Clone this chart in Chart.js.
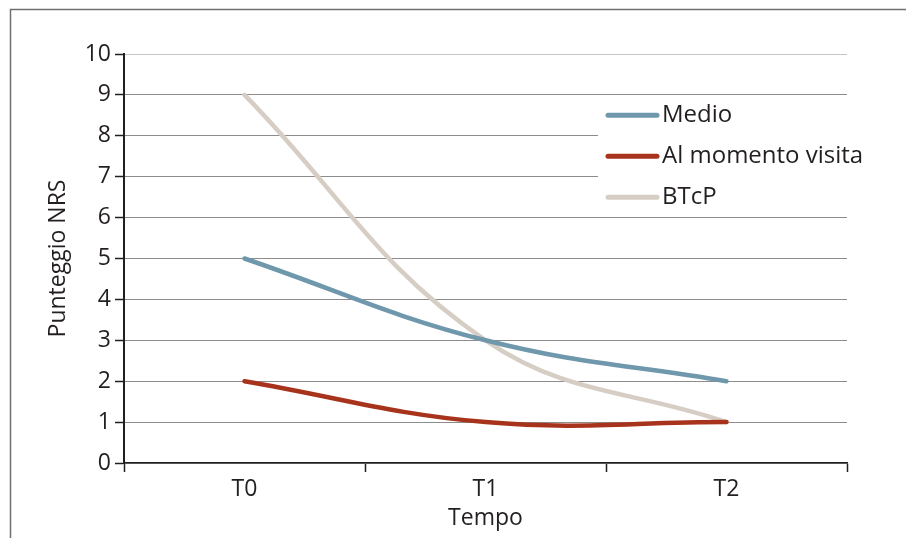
<!DOCTYPE html>
<html>
<head>
<meta charset="utf-8">
<script src="https://cdn.jsdelivr.net/npm/chart.js@4"></script>
<style>
  html, body { margin: 0; padding: 0; background: #fff; }
  #wrap { width: 906px; height: 538px; }
</style>
</head>
<body>
<div id="wrap"><canvas id="nrsChart" width="906" height="538"></canvas></div>
<script>
/* ── Data ── */
const categories = ['T0', 'T1', 'T2'];
const seriesNames = ['Medio', 'Al momento visita', 'BTcP'];
const medio = [5, 3, 2];
const momentoVisita = [2, 1, 1];
const btcp = [9, 3, 1];
const yTicks = [0, 1, 2, 3, 4, 5, 6, 7, 8, 9, 10];

const COLORS = {
  medio: '#7098ad',
  visita: '#a8331c',
  btcp: '#d6cec4',
  text: '#231f20',
  grid: '#8c8c8c',
  axis: '#231f20',
  frame: '#6f6f6f',
};

const FONT = "'Open Sans', 'Liberation Sans', sans-serif";

/* ── Frame around chart ── */
const framePlugin = {
  id: 'frame',
  beforeDraw(chart) {
    const ctx = chart.ctx;
    ctx.save();
    ctx.strokeStyle = COLORS.frame;
    ctx.lineWidth = 1.5;
    ctx.beginPath();
    ctx.moveTo(10.5, 540);
    ctx.lineTo(10.5, 9.5);
    ctx.lineTo(910, 9.5);
    ctx.stroke();
    ctx.restore();
  },
};

/* ── Legend box drawn over the grid ── */
const legendPlugin = {
  id: 'boxLegend',
  afterDatasetsDraw(chart) {
    const ctx = chart.ctx;
    const area = chart.chartArea;
    const yScale = chart.scales.y;
    ctx.save();
    ctx.fillStyle = '#ffffff';
    ctx.fillRect(598, yScale.getPixelForValue(8.85), area.right - 598 + 1, yScale.getPixelForValue(6.1) - yScale.getPixelForValue(8.85));
    ctx.font = `24px ${FONT}`;
    ctx.textBaseline = 'middle';
    ctx.lineCap = 'round';
    chart.data.datasets.forEach((ds, i) => {
      const y = yScale.getPixelForValue(8.5 - i);
      ctx.strokeStyle = ds.borderColor;
      ctx.lineWidth = 5;
      ctx.beginPath();
      ctx.moveTo(608, y);
      ctx.lineTo(657, y);
      ctx.stroke();
      ctx.fillStyle = COLORS.text;
      ctx.fillText(ds.label, 662, y);
    });
    ctx.restore();
  },
};

const lineStyle = (color) => ({
  borderColor: color,
  backgroundColor: color,
  borderWidth: 4.5,
  tension: 0.4,
  pointRadius: 0,
  borderCapStyle: 'round',
  fill: false,
});

new Chart(document.getElementById('nrsChart'), {
  type: 'line',
  data: {
    labels: categories,
    datasets: [
      { label: seriesNames[0], data: medio, ...lineStyle(COLORS.medio) },
      { label: seriesNames[1], data: momentoVisita, ...lineStyle(COLORS.visita) },
      { label: seriesNames[2], data: btcp, ...lineStyle(COLORS.btcp) },
    ],
  },
  options: {
    responsive: false,
    animation: false,
    devicePixelRatio: 1,
    layout: { padding: { left: 10, top: 54, right: 59, bottom: 0 } },
    plugins: { legend: { display: false }, tooltip: { enabled: false } },
    scales: {
      x: {
        offset: true,
        grid: {
          offset: true,
          drawOnChartArea: false,
          drawTicks: true,
          tickLength: 9,
          tickColor: COLORS.axis,
          tickWidth: 1.5,
        },
        border: { color: COLORS.axis, width: 1.5 },
        ticks: { color: COLORS.text, font: { family: FONT, size: 23 }, padding: 4 },
        title: {
          display: true,
          text: 'Tempo',
          color: COLORS.text,
          font: { family: FONT, size: 23 },
          padding: { top: 0, bottom: 6 },
        },
        afterFit(scale) { scale.height = 75; },
      },
      y: {
        min: 0,
        max: 10,
        afterBuildTicks(scale) { scale.ticks = yTicks.map(v => ({ value: v })); },
        grid: {
          color: (c) => (c.tick && c.tick.value === 10 ? '#c4c4c4' : COLORS.grid),
          lineWidth: 1,
          tickLength: 9,
          tickColor: COLORS.axis,
          tickWidth: 1.5,
        },
        border: { color: COLORS.axis, width: 2 },
        ticks: { color: COLORS.text, font: { family: FONT, size: 23 }, padding: 4 },
        title: {
          display: true,
          text: 'Punteggio NRS',
          color: COLORS.text,
          font: { family: FONT, size: 23 },
          padding: { top: 35, bottom: 0 },
        },
        afterFit(scale) { scale.width = 114; },
      },
    },
  },
  plugins: [framePlugin, legendPlugin],
});
</script>
</body>
</html>
